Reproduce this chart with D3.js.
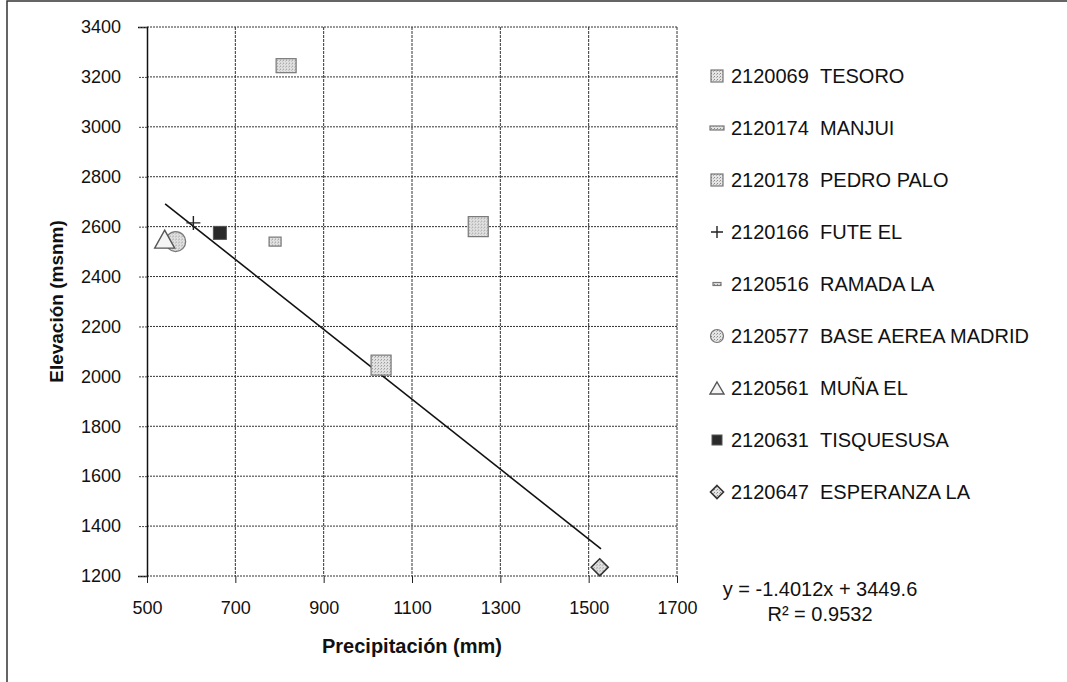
<!DOCTYPE html>
<html>
<head>
<meta charset="utf-8">
<script src="https://cdn.jsdelivr.net/npm/d3@7"></script>
<style>
  body { margin: 0; background: #fff; }
  svg { font-family: "Liberation Sans", Arial, sans-serif; }
</style>
</head>
<body>
<svg id="drawing_region"></svg>
<script>
// station codes and names (legend order)
const stations = ['2120069', '2120174', '2120178', '2120166', '2120516', '2120577', '2120561', '2120631', '2120647'];
const names = ['TESORO', 'MANJUI', 'PEDRO PALO', 'FUTE EL', 'RAMADA LA', 'BASE AEREA MADRID', 'MUÑA EL', 'TISQUESUSA', 'ESPERANZA LA'];
// precipitation (mm) and elevation (msnm) per station
const precip = [1250, 815, 1030, 605, 790, 565, 540, 665, 1525];
const elev = [2600, 3245, 2045, 2615, 2540, 2540, 2550, 2575, 1235];

const xTicks = [500, 700, 900, 1100, 1300, 1500, 1700];
const yTicks = [1200, 1400, 1600, 1800, 2000, 2200, 2400, 2600, 2800, 3000, 3200, 3400];

// linear trend
const trendSlope = -1.4012;
const trendIntercept = 3449.6;
const trendRange = [541, 1528];
const trendLabel = ['y = -1.4012x + 3449.6', 'R² = 0.9532'];

const W = 1067, H = 682;
const margin = {top: 27, left: 147, right: 390, bottom: 106};

// marker style for each series (plot, legend)
const markerStyle = [
    {type: 'rect', w: 20, h: 20, lw: 12, lh: 12},
    {type: 'rect', w: 20, h: 14, lw: 14, lh: 4},
    {type: 'rect', w: 20, h: 20, lw: 12, lh: 12},
    {type: 'plus', w: 14, h: 14, lw: 12, lh: 12},
    {type: 'rect', w: 12, h: 9, lw: 8, lh: 3},
    {type: 'circle', w: 20, h: 20, lw: 13, lh: 13},
    {type: 'triangle', w: 20, h: 18, lw: 14, lh: 12},
    {type: 'solid', w: 13, h: 13, lw: 10, lh: 10},
    {type: 'diamond', w: 17, h: 17, lw: 13, lh: 13}
];

const svg = d3.select('#drawing_region')
    .attr('width', W)
    .attr('height', H);

// scanned-looking speckle fill
const defs = svg.append('defs');
const pat = defs.append('pattern')
    .attr('id', 'speckle')
    .attr('width', 3).attr('height', 3)
    .attr('patternUnits', 'userSpaceOnUse');
pat.append('rect').attr('width', 3).attr('height', 3).attr('fill', '#e4e4e4');
pat.append('rect').attr('width', 1).attr('height', 1).attr('fill', '#8a8a8a');
pat.append('rect').attr('x', 2).attr('y', 1).attr('width', 1).attr('height', 1).attr('fill', '#b0b0b0');

// outer frame (runs off the page on right and bottom)
svg.append('rect')
    .attr('x', 7).attr('y', 1)
    .attr('width', W + 20).attr('height', H + 20)
    .attr('fill', 'none')
    .attr('stroke', '#333')
    .attr('stroke-width', 1.5);

const x = d3.scaleLinear()
    .domain([500, 1700])
    .range([margin.left, W - margin.right]);
const y = d3.scaleLinear()
    .domain([1200, 3400])
    .range([H - margin.bottom, margin.top]);

// grid
const grid = svg.append('g');
grid.selectAll('.hgrid')
    .data(yTicks)
    .join('line')
    .attr('x1', x(500)).attr('x2', x(1700))
    .attr('y1', d => y(d)).attr('y2', d => y(d))
    .attr('stroke', '#333')
    .attr('stroke-width', 1)
    .attr('stroke-dasharray', '2,1');
grid.selectAll('.vgrid')
    .data(xTicks.slice(1))
    .join('line')
    .attr('x1', d => x(d)).attr('x2', d => x(d))
    .attr('y1', y(3400)).attr('y2', y(1200))
    .attr('stroke', '#333')
    .attr('stroke-width', 1)
    .attr('stroke-dasharray', '3,1');

// axes
const xAxis = svg.append('g')
    .attr('transform', `translate(0,${y(1200)})`)
    .call(d3.axisBottom(x).tickValues(xTicks).tickSize(7).tickPadding(18).tickFormat(d3.format('d')));
xAxis.select('.domain').remove();
xAxis.selectAll('line').attr('stroke', '#222');
xAxis.selectAll('text').style('font-size', '18px').attr('fill', '#111');

const yAxis = svg.append('g')
    .attr('transform', `translate(${x(500)},0)`)
    .call(d3.axisLeft(y).tickValues(yTicks).tickSize(9).tickPadding(17).tickFormat(d3.format('d')));
yAxis.select('.domain').attr('stroke', '#111').attr('stroke-width', 1.5);
yAxis.selectAll('line').attr('stroke', '#444').attr('stroke-dasharray', '2,1');
yAxis.selectAll('text').style('font-size', '18px').attr('fill', '#111');

// axis titles
svg.append('text')
    .attr('x', (x(500) + x(1700)) / 2)
    .attr('y', 653)
    .attr('text-anchor', 'middle')
    .style('font-size', '20px')
    .style('font-weight', 'bold')
    .attr('fill', '#111')
    .text('Precipitación (mm)');

svg.append('text')
    .attr('transform', `translate(63,${(y(1200) + y(3400)) / 2}) rotate(-90)`)
    .attr('text-anchor', 'middle')
    .style('font-size', '19px')
    .style('font-weight', 'bold')
    .attr('fill', '#111')
    .text('Elevación (msnm)');

// trend line
svg.append('line')
    .attr('x1', x(trendRange[0])).attr('y1', y(trendSlope * trendRange[0] + trendIntercept))
    .attr('x2', x(trendRange[1])).attr('y2', y(trendSlope * trendRange[1] + trendIntercept))
    .attr('stroke', '#111')
    .attr('stroke-width', 1.6);

function drawMarker(g, s, w, h) {
    if (s.type === 'rect') {
        g.append('rect').attr('x', -w / 2).attr('y', -h / 2).attr('width', w).attr('height', h)
            .attr('fill', 'url(#speckle)').attr('stroke', '#777').attr('stroke-width', 1.2);
    } else if (s.type === 'solid') {
        g.append('rect').attr('x', -w / 2).attr('y', -h / 2).attr('width', w).attr('height', h)
            .attr('fill', '#2a2a2a').attr('stroke', '#555');
    } else if (s.type === 'circle') {
        g.append('circle').attr('r', w / 2)
            .attr('fill', 'url(#speckle)').attr('stroke', '#777').attr('stroke-width', 1.2);
    } else if (s.type === 'triangle') {
        g.append('path').attr('d', `M0,${-h / 2}L${w / 2},${h / 2}L${-w / 2},${h / 2}Z`)
            .attr('fill', '#f4f4f4').attr('stroke', '#555').attr('stroke-width', 1.4);
    } else if (s.type === 'diamond') {
        g.append('path').attr('d', `M0,${-h / 2}L${w / 2},0L0,${h / 2}L${-w / 2},0Z`)
            .attr('fill', 'url(#speckle)').attr('stroke', '#333').attr('stroke-width', 1.6);
    } else if (s.type === 'plus') {
        g.append('path').attr('d', `M${-w / 2},0H${w / 2}M0,${-h / 2}V${h / 2}`)
            .attr('stroke', '#222').attr('stroke-width', 1.4);
    }
}

// points
const points = svg.append('g');
stations.forEach((st, i) => {
    const g = points.append('g')
        .attr('transform', `translate(${x(precip[i])},${y(elev[i])})`);
    drawMarker(g, markerStyle[i], markerStyle[i].w, markerStyle[i].h);
});

// legend
const legend = svg.append('g');
stations.forEach((st, i) => {
    const ly = 76 + i * 52;
    const g = legend.append('g').attr('transform', `translate(717,${ly})`);
    drawMarker(g, markerStyle[i], markerStyle[i].lw, markerStyle[i].lh);
    legend.append('text')
        .attr('x', 731)
        .attr('y', ly)
        .attr('dy', '0.36em')
        .style('font-size', '20px')
        .attr('fill', '#111')
        .text(st + '\u00a0\u00a0' + names[i]);
});

// trend equation
trendLabel.forEach((t, i) => {
    svg.append('text')
        .attr('x', 820)
        .attr('y', 596 + i * 25)
        .attr('text-anchor', 'middle')
        .style('font-size', '20px')
        .attr('fill', '#111')
        .text(t);
});
</script>
</body>
</html>
